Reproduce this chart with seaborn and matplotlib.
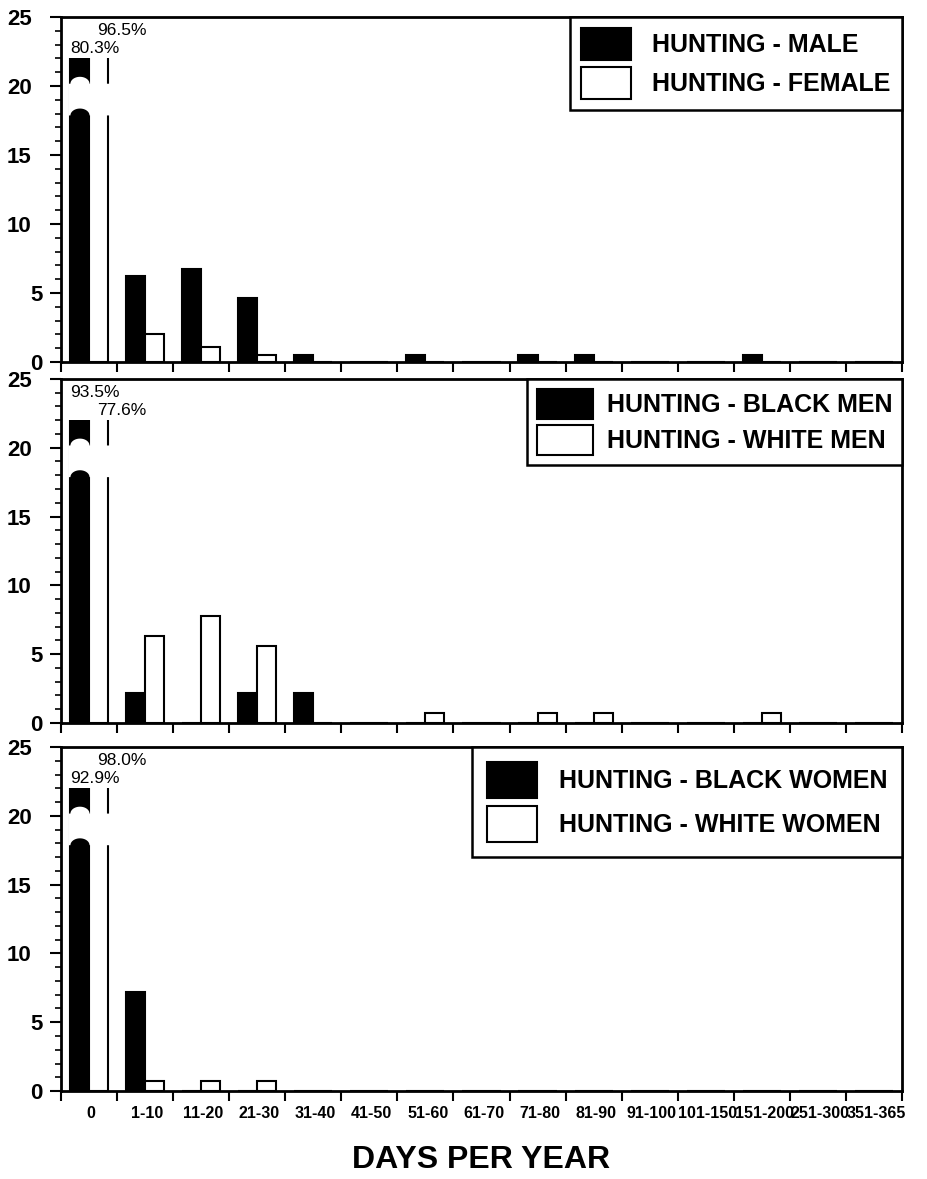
import numpy as np
import pandas as pd
import matplotlib
matplotlib.use("Agg")
import matplotlib.pyplot as plt
import matplotlib.patches as mpatches
from matplotlib.ticker import MultipleLocator
from matplotlib.transforms import ScaledTranslation
import seaborn as sns

# ---------------- data ----------------
categories = ["0", "1-10", "11-20", "21-30", "31-40", "41-50", "51-60", "61-70",
              "71-80", "81-90", "91-100", "101-150", "151-200", "251-300", "351-365"]

male_label = "HUNTING - MALE"
female_label = "HUNTING - FEMALE"
male = [80.3, 6.2, 6.7, 4.6, 0.5, 0, 0.5, 0, 0.5, 0.5, 0, 0, 0.5, 0, 0]
female = [96.5, 2.0, 1.1, 0.5, 0, 0, 0, 0, 0, 0, 0, 0, 0, 0, 0]

black_men_label = "HUNTING - BLACK MEN"
white_men_label = "HUNTING - WHITE MEN"
black_men = [93.5, 2.2, 0, 2.2, 2.2, 0, 0, 0, 0, 0, 0, 0, 0, 0, 0]
white_men = [77.6, 6.3, 7.8, 5.6, 0, 0, 0.7, 0, 0.7, 0.7, 0, 0, 0.7, 0, 0]

black_women_label = "HUNTING - BLACK WOMEN"
white_women_label = "HUNTING - WHITE WOMEN"
black_women = [92.9, 7.2, 0, 0, 0, 0, 0, 0, 0, 0, 0, 0, 0, 0, 0]
white_women = [98.0, 0.75, 0.75, 0.75, 0, 0, 0, 0, 0, 0, 0, 0, 0, 0, 0]

y_ticks = [0, 5, 10, 15, 20, 25]
x_label = "DAYS PER YEAR"

# ---------------- style ----------------
sns.set_style("ticks", {"axes.edgecolor": "black", "text.color": "black",
                        "xtick.color": "black", "ytick.color": "black",
                        "axes.labelcolor": "black"})
plt.rcParams["font.family"] = ["Liberation Sans", "DejaVu Sans"]

fig = plt.figure(figsize=(9.28, 11.79), dpi=100)
positions = [
    [0.0657, 0.6930, 0.9063, 0.2926],
    [0.0657, 0.3868, 0.9063, 0.2918],
    [0.0657, 0.0746, 0.9063, 0.2918],
]
legend_styles = [
    dict(handlelength=2.0, handleheight=1.59, borderpad=0.45, labelspacing=0.28, handletextpad=0.85),
    dict(handlelength=2.24, handleheight=1.47, borderpad=0.4, labelspacing=0.24, handletextpad=0.55),
    dict(handlelength=2.0, handleheight=1.84, borderpad=0.6, labelspacing=0.3, handletextpad=0.85),
]
panels = [
    (male_label, male, female_label, female),
    (black_men_label, black_men, white_men_label, white_men),
    (black_women_label, black_women, white_women_label, white_women),
]

for i, (pos, (lab_b, vals_b, lab_w, vals_w), lstyle) in enumerate(zip(positions, panels, legend_styles)):
    ax = fig.add_axes(pos)
    df = pd.DataFrame({
        "days": categories + categories,
        "pct": vals_b + vals_w,
        "group": [lab_b] * len(categories) + [lab_w] * len(categories),
    })
    sns.barplot(data=df, x="days", y="pct", hue="group", order=categories,
                hue_order=[lab_b, lab_w], palette={lab_b: "black", lab_w: "white"},
                edgecolor="black", linewidth=1.5, width=0.68, saturation=1,
                errorbar=None, legend=False, ax=ax)
    ax.set_xlim(-0.5, len(categories) - 0.5)
    ax.set_ylim(0, 25)
    for sp in ax.spines.values():
        sp.set_visible(True)
        sp.set_linewidth(2)
        sp.set_color("black")

    # x axis: ticks at category boundaries, labels at centres
    ax.set_xticks(np.arange(-0.5, len(categories), 1.0), labels=[])
    is_bottom = (i == len(positions) - 1)
    ax.set_xticks(np.arange(len(categories)) + 0.04,
                  labels=categories if is_bottom else [], minor=True,
                  fontsize=11.5, fontweight="bold")
    ax.tick_params(axis="x", which="major", direction="out", length=7, width=1.5)
    ax.tick_params(axis="x", which="minor", length=0, pad=11)

    # y axis
    ax.set_yticks(y_ticks, labels=[str(t) for t in y_ticks], fontsize=16, fontweight="bold")
    ax.yaxis.set_minor_locator(MultipleLocator(1))
    ax.tick_params(axis="y", which="major", direction="out", length=8, width=1.5, pad=13)
    ax.tick_params(axis="y", which="minor", direction="out", length=4.3, width=1.2)
    for lab in ax.get_yticklabels():
        if len(lab.get_text()) == 1:
            lab.set_transform(lab.get_transform() + ScaledTranslation(0.11, 0, fig.dpi_scale_trans))

    ax.set_ylabel("")
    if is_bottom:
        ax.set_xlabel(x_label, fontsize=23, fontweight="bold", labelpad=17)
    else:
        ax.set_xlabel("")

    # broken bars at the "0" category
    bars = [p for p in ax.patches if isinstance(p, mpatches.Rectangle)
            and (p.get_x() + p.get_width() / 2) < 0.5]
    bars.sort(key=lambda p: p.get_x())
    bk, wt = bars[0], bars[1]
    xs = np.linspace(bk.get_x() - 0.035, wt.get_x() + wt.get_width() + 0.035, 300)
    xc = bk.get_x() + bk.get_width() / 2
    hw = bk.get_width() / 2
    rel = np.clip((xs - xc) / hw, -1, 1)
    dome = np.where(np.abs(xs - xc) <= hw, 0.5 * np.sqrt(1 - rel ** 2), 0.0)
    ax.fill_between(xs, 17.9 + dome, 20.2 + dome, color="white", lw=0, zorder=2.4)
    ax.fill_between(xs, 22.0, 25.0, color="white", lw=0, zorder=2.4)

    # percent labels
    hi, lo = (bk, wt) if bk.get_height() >= wt.get_height() else (wt, bk)
    for bar, yv in ((hi, 24.0), (lo, 22.7)):
        off = 0.0 if bar is bk else 0.14
        ax.text(bar.get_x() + off, yv, f"{bar.get_height():.1f}%", ha="left", va="center",
                fontsize=12.5, zorder=5)

    handles = [
        mpatches.Patch(facecolor="black", edgecolor="black", linewidth=1.5, label=lab_b),
        mpatches.Patch(facecolor="white", edgecolor="black", linewidth=1.5, label=lab_w),
    ]
    leg = ax.legend(handles=handles, loc="upper right", borderaxespad=0, fancybox=False,
                    edgecolor="black", framealpha=1, prop={"weight": "bold", "size": 18},
                    **lstyle)
    leg.get_frame().set_linewidth(1.8)
    leg.set_zorder(6)

fig.savefig("out.png", dpi=100)
